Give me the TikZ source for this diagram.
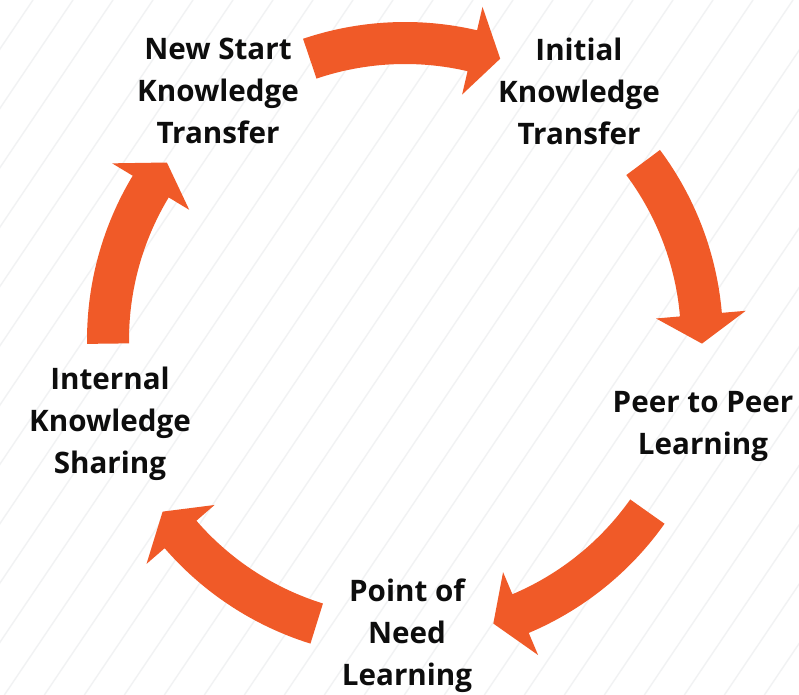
\documentclass[tikz,border=0pt]{standalone}
\usepackage{fontspec}
\setmainfont{Open Sans}
\usetikzlibrary{calc}
\definecolor{cycleorange}{HTML}{F05A28}
\definecolor{stripegray}{HTML}{F1F2F3}
\begin{document}
\begin{tikzpicture}[x=1pt,y=1pt,
  cyclelabel/.style={font=\fontsize{29.6}{42}\selectfont\bfseries, align=center,
    text=black!95, inner sep=0pt},
  cyclearrow/.style={fill=cycleorange, draw=none}]
% canvas and faint diagonal hatching
\path[use as bounding box] (0,0) rectangle (799,694);
\fill[white] (0,0) rectangle (799,694);
\begin{scope}
  \clip (0,0) rectangle (799,694);
  \foreach \k in {-17,...,17} {
    \draw[stripegray, line width=1.4pt] (\k*40+633,694) -- ++(-472,-700);
  }
\end{scope}
% ring of five curved arrows around the cycle centre
\coordinate (C) at (405,354);
\foreach \c in {90,18,-54,-126,-198} {
  \pgfmathsetmacro\t{\c+18.7}
  \pgfmathsetmacro\p{\c-18.7}
  \pgfmathsetmacro\b{\c-13.1}
  \fill[cyclearrow] ($(C)+(\t:318)$) arc[start angle=\t, end angle=\b, radius=318]
    -- ($(C)+(\b:342)$) -- ($(C)+(\p:297)$) -- ($(C)+(\b:252)$)
    -- ($(C)+(\b:276)$) arc[start angle=\b, end angle=\t, radius=276] -- cycle;
}
% stage labels
\node[cyclelabel] (newstart) at (218,603) {New Start\\Knowledge\\Transfer};
\node[cyclelabel] (initial)  at (579,603) {Initial\\Knowledge\\Transfer};
\node[cyclelabel] (peer)     at (703,268) {Peer to Peer\\Learning};
\node[cyclelabel] (need)     at (407,58)  {Point of\\Need\\Learning};
\node[cyclelabel] (internal) at (110,270) {Internal\\Knowledge\\Sharing};
\end{tikzpicture}
\end{document}
